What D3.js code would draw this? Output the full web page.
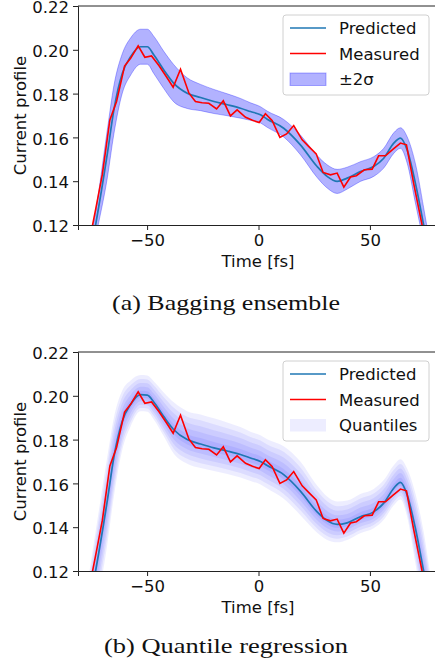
<!DOCTYPE html>
<html>
<head>
<meta charset="utf-8">
<script src="https://cdn.jsdelivr.net/npm/d3@7"></script>
<style>
    body { margin: 0; background: #fff; }
    svg text { font-family: "DejaVu Sans", sans-serif; fill: #111; }
    .caption { font-family: "Liberation Serif", "DejaVu Serif", serif !important; }
</style>
</head>
<body>
<div id="chart"></div>
<script>

// time grid of the predicted curves [fs]
var predTime = [-76, -73.1, -67.8, -64.9, -61.1, -57.4, -52.9, -49.9, -47, -42.5, -38, -32, -26, -20, -14, -8.1,
    -3.6, 0.9, 3.9, 11.3, 18.8, 26.3, 30.8, 35.3, 39.8, 45.7, 51.7, 56.2, 60.7, 63.7, 66.7, 70.4, 74.1, 77];

// (a) bagging ensemble: mean prediction and 2 sigma
var predBag = [0.104, 0.12, 0.1528, 0.1726, 0.1893, 0.1969, 0.2014, 0.2014, 0.1977, 0.1908, 0.1847, 0.1802,
    0.1782, 0.1764, 0.1749, 0.1733, 0.1718, 0.1703, 0.1683, 0.1642, 0.1566, 0.1467, 0.1422, 0.1399, 0.1414,
    0.1444, 0.1467, 0.1505, 0.1574, 0.1597, 0.1543, 0.1391, 0.12, 0.104];
var twoSigma = [0.006, 0.006, 0.011, 0.011, 0.009, 0.0085, 0.008, 0.008, 0.0085, 0.0085, 0.0085, 0.007,
    0.006, 0.0055, 0.005, 0.0045, 0.004, 0.0037, 0.0037, 0.004, 0.0045, 0.005, 0.0053, 0.0055, 0.005,
    0.0045, 0.0045, 0.0045, 0.0047, 0.0047, 0.006, 0.009, 0.008, 0.007];

// (b) quantile regression: median and outer quantile spread
var predQuant = [0.104, 0.12, 0.1525, 0.172, 0.1885, 0.196, 0.2005, 0.2003, 0.1972, 0.1905, 0.1845, 0.18,
    0.178, 0.1762, 0.1748, 0.1732, 0.1716, 0.17, 0.1682, 0.164, 0.1565, 0.147, 0.143, 0.1413, 0.142,
    0.1448, 0.147, 0.151, 0.1578, 0.1605, 0.1548, 0.1395, 0.12, 0.104];
var quantUpper = [0.015, 0.018, 0.02, 0.018, 0.014, 0.011, 0.009, 0.009, 0.0095, 0.011, 0.0125, 0.013,
    0.0135, 0.0135, 0.013, 0.0125, 0.012, 0.012, 0.012, 0.013, 0.0135, 0.012, 0.011, 0.0104, 0.0102,
    0.0104, 0.0105, 0.0105, 0.0105, 0.0105, 0.012, 0.016, 0.018, 0.015];
var quantLower = [0.015, 0.018, 0.02, 0.018, 0.013, 0.01, 0.0076, 0.0076, 0.008, 0.009, 0.011, 0.011,
    0.011, 0.0105, 0.0105, 0.0105, 0.0105, 0.0105, 0.0105, 0.011, 0.011, 0.0095, 0.0088, 0.0082, 0.0078,
    0.0076, 0.0075, 0.0076, 0.0078, 0.0078, 0.01, 0.016, 0.018, 0.015];
var quantLevels = [1.0, 0.8, 0.6, 0.4, 0.2];

// measured current profile
var measTime = [-76.4, -73.1, -70.1, -66.7, -63.7, -60.1, -57.4, -54, -51, -48, -44.7, -41.4, -38.3, -35,
    -31.2, -28.3, -25.3, -22.3, -18.8, -15.8, -12.6, -9.6, -5.8, -2.7, 0.3, 3.1, 6.1, 9.6, 12.6, 15.8, 19.6,
    22.6, 25.9, 29, 32.3, 35.3, 38.3, 41.3, 43.9, 47.5, 51, 53.9, 57, 60.4, 63.7, 66.4, 69.6, 73.4, 76.5];
var measured = [0.11, 0.127, 0.143, 0.168, 0.1764, 0.1926, 0.1961, 0.2018, 0.1966, 0.1972, 0.1928, 0.1878,
    0.1829, 0.1911, 0.1802, 0.1764, 0.1758, 0.1756, 0.173, 0.1767, 0.1698, 0.1726, 0.1692, 0.1678, 0.1668,
    0.1708, 0.1677, 0.160, 0.1616, 0.1654, 0.1589, 0.1558, 0.1525, 0.144, 0.1429, 0.1437, 0.1373, 0.1419,
    0.1425, 0.1452, 0.1455, 0.1516, 0.1516, 0.1546, 0.1574, 0.1566, 0.1391, 0.12, 0.104];

var xTicks = [-50, 0, 50];
var yTicks = [0.12, 0.14, 0.16, 0.18, 0.20, 0.22];

var svg = d3.select("#chart").append("svg")
    .attr("width", 435)
    .attr("height", 666);

var measData = measTime.map(function(t, i){ return { t: t, v: measured[i] }; });

function drawPanel(id, top, pred, kind, caption) {
    var left = 78, width = 361, height = 219;

    var x = d3.scaleLinear().domain([-81, 81]).range([0, width]);
    var y = d3.scaleLinear().domain([0.12, 0.22]).range([height, 0]);

    var g = svg.append("g")
        .attr("transform", "translate(" + left + "," + top + ")");

    g.append("clipPath").attr("id", "clip-" + id)
        .append("rect").attr("width", width).attr("height", height);

    var plot = g.append("g").attr("clip-path", "url(#clip-" + id + ")");

    var data = predTime.map(function(t, i){ return { t: t, v: pred[i] }; });

    if (kind == "bag") {
        var band = d3.area()
            .x(function(d, i){ return x(d.t); })
            .y0(function(d, i){ return y(d.v - twoSigma[i]); })
            .y1(function(d, i){ return y(d.v + twoSigma[i]); })
            .curve(d3.curveMonotoneX);
        plot.append("path")
            .datum(data)
            .attr("d", band)
            .style("fill", "blue")
            .style("fill-opacity", 0.3)
            .style("stroke", "blue")
            .style("stroke-opacity", 0.3);
    } else {
        quantLevels.forEach(function(q){
            var band = d3.area()
                .x(function(d){ return x(d.t); })
                .y0(function(d, i){ return y(d.v - quantLower[i] * q); })
                .y1(function(d, i){ return y(d.v + quantUpper[i] * q); })
                .curve(d3.curveMonotoneX);
            plot.append("path")
                .datum(data)
                .attr("d", band)
                .style("fill", "blue")
                .style("fill-opacity", 0.07)
                .style("stroke", "none");
        });
    }

    var line = d3.line()
        .x(function(d){ return x(d.t); })
        .y(function(d){ return y(d.v); });

    plot.append("path")
        .datum(data)
        .attr("d", line.curve(d3.curveMonotoneX))
        .style("fill", "none")
        .style("stroke", "#1f77b4")
        .style("stroke-width", 1.7);

    plot.append("path")
        .datum(measData)
        .attr("d", line.curve(d3.curveLinear))
        .style("fill", "none")
        .style("stroke", "#ff0000")
        .style("stroke-width", 1.6);

    // Axes
    var xAxis = d3.axisBottom(x).tickValues(xTicks).tickSize(5).tickPadding(4)
        .tickFormat(function(d){ return d < 0 ? "\u2212" + Math.abs(d) : d; });
    var yAxis = d3.axisLeft(y).tickValues(yTicks).tickSize(5).tickPadding(4)
        .tickFormat(d3.format(".2f"));

    g.append("g").attr("class", "x-axis")
        .attr("transform", "translate(0," + height + ")")
        .call(xAxis);
    g.append("g").attr("class", "y-axis")
        .call(yAxis);

    g.selectAll(".x-axis, .y-axis").selectAll("path, line")
        .style("stroke", "#222").style("stroke-width", 1);
    g.selectAll(".x-axis, .y-axis").selectAll("text")
        .style("font-size", "16.5px").style("font-family", "DejaVu Sans").style("fill", "#111");
    g.select(".y-axis").selectAll("text").attr("dy", "0.4em");

    // top spine
    g.append("line")
        .attr("x1", 0).attr("x2", width).attr("y1", 0).attr("y2", 0)
        .style("stroke", "#222").style("stroke-width", 1);

    // Axis titles
    g.append("text")
        .attr("x", 180)
        .attr("y", height + 42)
        .attr("text-anchor", "middle")
        .style("font-size", "16.5px")
        .text("Time [fs]");

    g.append("text")
        .attr("transform", "translate(-52," + (height / 2) + ") rotate(-90)")
        .attr("text-anchor", "middle")
        .style("font-size", "16.5px")
        .text("Current profile");

    // Legend
    var lg = g.append("g").attr("transform", "translate(205,9)");
    lg.append("rect")
        .attr("width", 146).attr("height", 80).attr("rx", 3)
        .style("fill", "white").style("fill-opacity", 0.8)
        .style("stroke", "#d0d0d0");

    lg.append("line").attr("x1", 7).attr("x2", 43).attr("y1", 13).attr("y2", 13)
        .style("stroke", "#1f77b4").style("stroke-width", 1.7);
    lg.append("line").attr("x1", 7).attr("x2", 43).attr("y1", 38.5).attr("y2", 38.5)
        .style("stroke", "#ff0000").style("stroke-width", 1.6);
    lg.append("rect").attr("x", 7).attr("y", 58).attr("width", 36).attr("height", 12.5)
        .style("fill", "blue")
        .style("fill-opacity", kind == "bag" ? 0.3 : 0.07)
        .style("stroke", kind == "bag" ? "blue" : "none")
        .style("stroke-opacity", 0.3);

    var labels = ["Predicted", "Measured", kind == "bag" ? "\u00b12\u03c3" : "Quantiles"];
    lg.selectAll(".lab")
        .data(labels)
        .enter().append("text")
        .attr("class", "lab")
        .attr("x", 56)
        .attr("y", function(d, i){ return 19 + i * 25.5; })
        .style("font-size", "16.5px")
        .text(function(d){ return d; });

    // Sub-figure caption
    svg.append("text")
        .attr("class", "caption")
        .attr("x", 226)
        .attr("y", caption.y)
        .attr("text-anchor", "middle")
        .attr("textLength", caption.len)
        .attr("lengthAdjust", "spacingAndGlyphs")
        .style("font-size", "22px")
        .text(caption.text);
}

drawPanel("a", 6, predBag, "bag", { text: "(a) Bagging ensemble", y: 310, len: 228 });
drawPanel("b", 352, predQuant, "quant", { text: "(b) Quantile regression", y: 653, len: 244 });

</script>
</body>
</html>
